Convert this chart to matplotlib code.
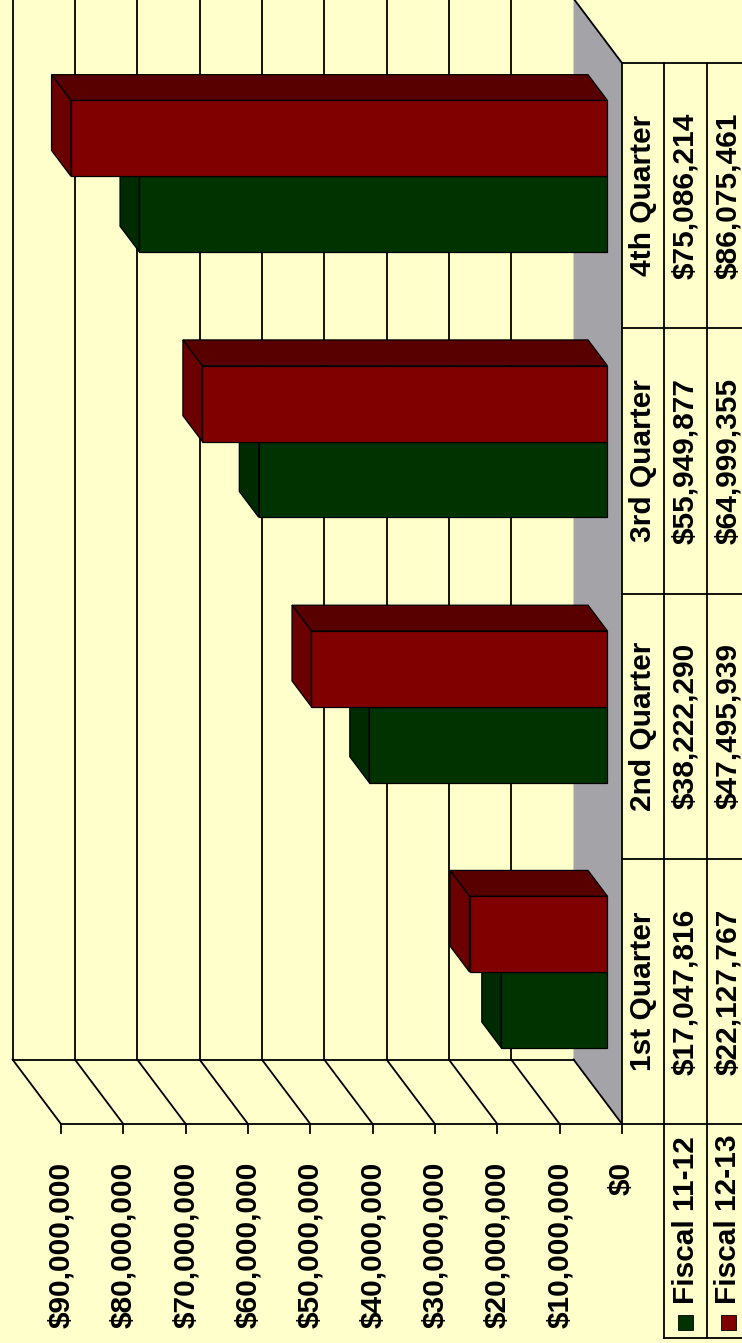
import numpy as np
import matplotlib.pyplot as plt
from matplotlib.patches import Polygon, Rectangle

quarters = ["1st Quarter", "2nd Quarter", "3rd Quarter", "4th Quarter"]
series_names = ["Fiscal 11-12", "Fiscal 12-13"]
fiscal_11_12 = [17047816, 38222290, 55949877, 75086214]
fiscal_12_13 = [22127767, 47495939, 64999355, 86075461]
value_ticks = np.arange(0, 90000001, 10000000)

front_colors = ["#003300", "#800000"]
end_colors = ["#002a00", "#6a0000"]
side_colors = ["#001f00", "#580000"]
bg = "#ffffcc"
floor_gray = "#a4a4a8"

plt.rcParams['font.family'] = ['Liberation Sans', 'DejaVu Sans']
plt.rcParams['font.weight'] = 'bold'
fsize = 21.5
lw = 1.3

W, H = 742, 1343
fig = plt.figure(figsize=(W / 100, H / 100), dpi=100, facecolor=bg)
ax = fig.add_axes([0, 0, 1, 1])
ax.set_facecolor(bg)
ax.axis('off')

# value axis runs right-to-left, quarters run bottom-to-top
px_per_val = 62.33 / 1e7
x0_px = 622
cat_px = 265.25
y0_px = 1124


def vx(px):
    return (x0_px - px) / px_per_val


def cy(py):
    return -0.5 + (y0_px - py) / cat_px


ax.set_xlim(vx(0), vx(W))
ax.set_ylim(cy(H), cy(0))

# depth of the 3d box in data units
DX = 48.5 / px_per_val
DY = 64.5 / cat_px
c_lo, c_hi = -0.5, len(quarters) - 0.5
vmax = value_ticks[-1]


def p(v, c, d):
    return (v + d * DX, c + d * DY)


# floor
floor = Polygon([p(0, c_lo, 0), p(0, c_lo, 1), p(0, c_hi, 1), p(0, c_hi, 0)],
                closed=True, facecolor=floor_gray, edgecolor='none', zorder=1)
ax.add_patch(floor)
ax.plot(*zip(p(0, c_hi, 0), p(0, c_hi, 1)), color='k', lw=lw, zorder=2)

# back wall gridlines
for v in value_ticks[1:]:
    ax.plot(*zip(p(v, c_lo, 1), p(v, c_hi, 1)), color='k', lw=lw, zorder=2)
ax.plot(*zip(p(0, c_lo, 1), p(vmax, c_lo, 1)), color='k', lw=lw, zorder=2)

# side wall diagonals and front axis with ticks
for v in value_ticks:
    ax.plot(*zip(p(v, c_lo, 0), p(v, c_lo, 1)), color='k', lw=lw, zorder=2)
    ax.plot([v, v], [c_lo, cy(1133)], color='k', lw=lw, zorder=2)
    ax.text(v, cy(1162), "${:,}".format(int(v)), rotation=90, ha='center',
            va='top', fontsize=fsize, fontweight='bold')
ax.plot([vmax, vx(W)], [c_lo, c_lo], color='k', lw=lw, zorder=2)

# clustered 3d bars
bar_w = 1 / 3.5
d0, d1 = 0.3, 0.7
for i in range(len(quarters)):
    for s, vals in enumerate([fiscal_11_12, fiscal_12_13]):
        val = vals[i]
        ca = i - bar_w + s * bar_w
        cb = ca + bar_w
        side = [p(0, cb, d0), p(val, cb, d0), p(val, cb, d1), p(0, cb, d1)]
        end = [p(val, ca, d0), p(val, cb, d0), p(val, cb, d1), p(val, ca, d1)]
        front = [p(0, ca, d0), p(val, ca, d0), p(val, cb, d0), p(0, cb, d0)]
        for pts, col in [(side, side_colors[s]), (end, end_colors[s]), (front, front_colors[s])]:
            ax.add_patch(Polygon(pts, closed=True, facecolor=col, edgecolor='k',
                                 lw=0.9, zorder=3 + s))

# data table
row_edges = [622, 664, 707]
row_mid = [643, 685.5, 728.5]
ax.plot([0, 0], [c_lo, c_hi], color='k', lw=lw, zorder=5)
for px in row_edges[1:]:
    ax.plot([vx(px), vx(px)], [cy(1338), c_hi], color='k', lw=lw, zorder=5)
for c in np.arange(c_lo + 1, c_hi + 0.5):
    ax.plot([0, vx(W)], [c, c], color='k', lw=lw, zorder=5)
ax.plot([vx(row_edges[1]), vx(W)], [cy(1338), cy(1338)], color='k', lw=lw, zorder=5)

for i, q in enumerate(quarters):
    ax.text(vx(row_mid[0]), i, q, rotation=90, ha='center', va='center',
            fontsize=fsize, fontweight='bold')
    ax.text(vx(row_mid[1]), i, "${:,}".format(fiscal_11_12[i]), rotation=90,
            ha='center', va='center', fontsize=fsize, fontweight='bold')
    ax.text(vx(row_mid[2]), i, "${:,}".format(fiscal_12_13[i]), rotation=90,
            ha='center', va='center', fontsize=fsize, fontweight='bold')

# legend keys in the table header
for s, name in enumerate(series_names):
    mid = row_mid[s + 1]
    ax.add_patch(Rectangle((vx(mid + 7.5), cy(1330)), vx(mid - 7.5) - vx(mid + 7.5),
                           cy(1315) - cy(1330), facecolor=front_colors[s],
                           edgecolor='k', lw=0.6, zorder=5))
    ax.text(vx(mid), cy(1304), name, rotation=90, ha='center', va='bottom',
            fontsize=fsize, fontweight='bold')

fig.savefig("out.png", dpi=100, facecolor=bg)
